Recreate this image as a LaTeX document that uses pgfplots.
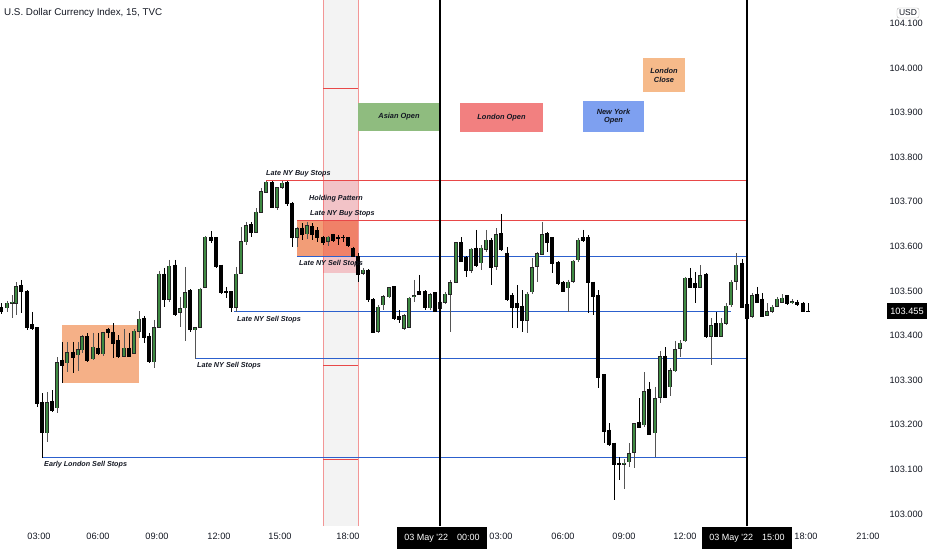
\documentclass[border=0pt]{standalone}
\usepackage{fontspec}
\setmainfont{Liberation Sans}
\usepackage{pgfplots}
\pgfplotsset{compat=1.18}
\usepackage{pgfplotstable}
\definecolor{tvgreen}{RGB}{62,138,66}
\definecolor{wick}{RGB}{85,85,85}
\definecolor{tvred}{RGB}{232,72,72}
\definecolor{tvblue}{RGB}{44,96,205}
\definecolor{band}{RGB}{243,243,243}
\definecolor{bandedge}{RGB}{242,150,150}
\definecolor{overred}{RGB}{242,54,69}
\definecolor{orangebox}{RGB}{240,140,95}
\definecolor{salmon}{RGB}{245,176,135}
\definecolor{asian}{RGB}{143,188,127}
\definecolor{londonopen}{RGB}{242,128,128}
\definecolor{nyopen}{RGB}{126,160,240}
\definecolor{londonclose}{RGB}{246,186,138}
\definecolor{txt}{RGB}{19,23,34}

\pgfplotstableread{
x o h l c
7 103.462 103.478 103.453 103.473
12 103.473 103.491 103.439 103.475
16 103.473 103.520 103.446 103.509
47 103.182 103.274 103.161 103.249
57 103.238 103.352 103.226 103.339
67 103.339 103.386 103.318 103.361
78 103.357 103.386 103.321 103.368
82 103.368 103.401 103.361 103.397
93 103.348 103.406 103.345 103.374
103 103.359 103.408 103.354 103.406
124 103.354 103.415 103.352 103.372
134 103.361 103.415 103.361 103.410
139 103.410 103.455 103.395 103.437
154 103.341 103.435 103.327 103.417
159 103.419 103.545 103.417 103.538
169 103.482 103.570 103.475 103.556
180 103.453 103.487 103.419 103.460
185 103.462 103.554 103.388 103.496
195 103.413 103.419 103.348 103.417
200 103.419 103.507 103.417 103.504
205 103.509 103.623 103.507 103.621
236 103.464 103.554 103.453 103.538
241 103.540 103.643 103.538 103.610
246 103.610 103.655 103.603 103.646
256 103.632 103.686 103.630 103.677
261 103.677 103.731 103.675 103.722
266 103.722 103.747 103.720 103.744
277 103.688 103.733 103.682 103.731
282 103.733 103.747 103.729 103.742
297 103.621 103.643 103.599 103.639
307 103.628 103.655 103.617 103.646
328 103.612 103.623 103.601 103.621
363 103.540 103.552 103.536 103.547
378 103.410 103.469 103.406 103.464
383 103.469 103.491 103.457 103.487
389 103.487 103.509 103.484 103.507
404 103.417 103.448 103.413 103.444
409 103.419 103.487 103.417 103.484
414 103.487 103.525 103.475 103.489
430 103.462 103.496 103.457 103.491
440 103.460 103.480 103.455 103.475
445 103.475 103.498 103.471 103.493
450 103.493 103.525 103.408 103.518
456 103.520 103.610 103.518 103.608
471 103.547 103.596 103.540 103.594
481 103.563 103.603 103.547 103.596
486 103.594 103.637 103.587 103.614
496 103.556 103.641 103.547 103.626
527 103.435 103.498 103.406 103.493
532 103.498 103.574 103.493 103.552
537 103.556 103.587 103.520 103.583
542 103.583 103.655 103.581 103.626
568 103.507 103.525 103.453 103.520
573 103.522 103.570 103.518 103.567
578 103.570 103.619 103.565 103.614
624 103.112 103.123 103.056 103.114
629 103.117 103.159 103.105 103.135
634 103.139 103.204 103.103 103.202
644 103.200 103.318 103.195 103.274
655 103.182 103.285 103.128 103.258
660 103.262 103.365 103.249 103.352
670 103.285 103.327 103.265 103.321
675 103.321 103.388 103.318 103.368
680 103.372 103.390 103.352 103.383
685 103.388 103.531 103.386 103.529
700 103.509 103.558 103.507 103.534
711 103.399 103.439 103.334 103.422
721 103.399 103.439 103.397 103.428
726 103.428 103.473 103.424 103.466
731 103.469 103.525 103.464 103.520
736 103.522 103.585 103.502 103.558
752 103.444 103.496 103.439 103.489
767 103.446 103.473 103.444 103.453
772 103.455 103.469 103.451 103.464
777 103.466 103.487 103.464 103.482
782 103.475 103.493 103.473 103.484
792 103.475 103.482 103.471 103.476
}\upcandles

\pgfplotstableread{
x o h l c
1 103.462 103.473 103.448 103.455
21 103.513 103.525 103.451 103.498
27 103.498 103.502 103.413 103.419
32 103.424 103.453 103.413 103.417
37 103.417 103.419 103.240 103.247
42 103.251 103.271 103.126 103.182
52 103.253 103.278 103.229 103.233
62 103.345 103.386 103.294 103.334
73 103.363 103.386 103.316 103.352
87 103.397 103.406 103.341 103.345
98 103.372 103.406 103.357 103.359
108 103.413 103.417 103.395 103.406
113 103.408 103.428 103.350 103.383
118 103.388 103.401 103.350 103.354
129 103.372 103.406 103.352 103.354
144 103.439 103.444 103.383 103.395
149 103.399 103.406 103.339 103.341
164 103.538 103.552 103.464 103.480
175 103.558 103.570 103.444 103.448
190 103.500 103.504 103.408 103.413
211 103.621 103.635 103.608 103.614
216 103.619 103.621 103.552 103.554
221 103.558 103.558 103.493 103.496
226 103.498 103.509 103.484 103.496
231 103.498 103.500 103.453 103.462
251 103.648 103.655 103.621 103.632
272 103.744 103.747 103.686 103.688
287 103.744 103.747 103.691 103.697
292 103.697 103.700 103.599 103.621
302 103.641 103.652 103.614 103.626
312 103.644 103.652 103.614 103.626
317 103.635 103.643 103.610 103.619
323 103.619 103.623 103.603 103.608
333 103.626 103.628 103.610 103.614
338 103.619 103.626 103.603 103.617
343 103.621 103.626 103.610 103.619
348 103.619 103.621 103.599 103.603
353 103.596 103.599 103.576 103.578
358 103.578 103.585 103.520 103.538
368 103.547 103.549 103.475 103.480
373 103.480 103.484 103.406 103.408
394 103.509 103.511 103.435 103.439
399 103.442 103.457 103.428 103.437
419 103.498 103.536 103.491 103.493
425 103.498 103.502 103.457 103.462
435 103.496 103.498 103.453 103.455
461 103.608 103.621 103.565 103.567
466 103.574 103.578 103.531 103.545
476 103.596 103.637 103.554 103.558
491 103.614 103.619 103.513 103.552
501 103.628 103.673 103.590 103.594
507 103.585 103.599 103.478 103.482
512 103.489 103.496 103.417 103.464
517 103.471 103.513 103.417 103.462
522 103.466 103.502 103.408 103.433
547 103.628 103.632 103.587 103.608
552 103.619 103.621 103.540 103.561
558 103.563 103.567 103.513 103.518
563 103.518 103.522 103.498 103.500
583 103.619 103.637 103.610 103.614
588 103.619 103.626 103.451 103.520
593 103.520 103.520 103.446 103.487
598 103.489 103.502 103.283 103.307
604 103.312 103.312 103.159 103.186
609 103.188 103.204 103.153 103.155
614 103.159 103.159 103.031 103.112
619 103.114 103.128 103.076 103.112
639 103.204 103.260 103.193 103.195
649 103.280 103.296 103.177 103.179
665 103.354 103.374 103.260 103.262
690 103.529 103.552 103.507 103.509
695 103.516 103.543 103.473 103.509
706 103.538 103.540 103.395 103.397
716 103.426 103.453 103.397 103.399
742 103.561 103.572 103.464 103.464
747 103.469 103.480 103.435 103.439
757 103.491 103.509 103.473 103.475
762 103.482 103.496 103.442 103.444
787 103.489 103.491 103.469 103.473
797 103.475 103.480 103.466 103.469
803 103.473 103.475 103.455 103.455
808 103.455 103.473 103.453 103.455
}\downcandles

\begin{document}
\begin{tikzpicture}[x=1pt,y=1pt]
\begin{axis}[
  at={(0pt,0pt)}, anchor=south west,
  scale only axis, width=880pt, height=526pt,
  xmin=0, xmax=880, ymin=102.9731, ymax=104.1525,
  axis line style={draw=none},
  clip=false,
  major tick length=0pt,
  xtick={39,98,157,219,280,348,501,563,624,685,806,868},
  xticklabels={03:00,06:00,09:00,12:00,15:00,18:00,03:00,06:00,09:00,12:00,18:00,21:00},
  ytick={103.0,103.1,103.2,103.3,103.4,103.5,103.6,103.7,103.8,103.9,104.0,104.1},
  yticklabel pos=right,
  yticklabel={\pgfmathprintnumber[fixed,fixed zerofill,precision=3]{\tick}},
  /pgf/number format/assume math mode=true,
  ticklabel style={font=\fontsize{9.2}{11}\selectfont, text=txt},
  yticklabel style={anchor=west, xshift=6pt},
  xticklabel style={yshift=-4pt},
  every error bar/.append style={line cap=butt},
  candle/.style={draw=none, mark=none, forget plot, error bars/y dir=minus, error bars/y explicit, error bars/error mark=none},
]
% session band
\fill[band] (323,102.9731) rectangle (358,104.1525);
\draw[bandedge, line width=0.8pt] (323,102.9731) -- (323,104.1525);
\draw[bandedge, line width=0.8pt] (358,102.9731) -- (358,104.1525);
\draw[tvred, line width=1pt] (323,103.955) -- (358,103.955);
\draw[tvred, line width=1pt] (323,103.332) -- (358,103.332);
\draw[tvred, line width=1pt] (323,103.123) -- (358,103.123);
% boxes
\fill[salmon] (62,103.294) rectangle (139,103.424);
\fill[orangebox, opacity=0.85] (297,103.578) rectangle (358,103.657);
\fill[overred, opacity=0.25] (323,103.540) rectangle (358,103.747);
% session labels
\fill[asian] (358,103.859) rectangle (440,103.922);
\node[font=\fontsize{7.4}{8.5}\selectfont\bfseries\itshape, text=txt] at (399,103.8905) {Asian Open};
\fill[londonopen] (460,103.857) rectangle (543,103.922);
\node[font=\fontsize{7.4}{8.5}\selectfont\bfseries\itshape, text=txt] at (501.5,103.8895) {London Open};
\fill[nyopen] (583,103.857) rectangle (644,103.926);
\node[font=\fontsize{7.4}{8.5}\selectfont\bfseries\itshape, text=txt, align=center] at (613.5,103.8915) {New York\\Open};
\fill[londonclose] (643,103.946) rectangle (685,104.022);
\node[font=\fontsize{7.4}{8.5}\selectfont\bfseries\itshape, text=txt, align=center] at (664,103.984) {London\\Close};
% levels
\draw[tvred, line width=1pt] (266,103.747) -- (747,103.747);
\draw[tvred, line width=1pt] (297,103.657) -- (747,103.657);
\draw[tvblue, line width=1pt] (297,103.578) -- (747,103.578);
\draw[tvblue, line width=1pt] (234,103.453) -- (731,103.453);
\draw[tvblue, line width=1pt] (195,103.348) -- (747,103.348);
\draw[tvblue, line width=1pt] (42,103.126) -- (747,103.126);
% candles: wicks
\addplot[candle, error bars/error bar style={draw=wick, line width=0.9pt}]
  table[x=x, y=h, y error minus expr={\thisrow{h}-\thisrow{l}}] {\upcandles};
\addplot[candle, error bars/error bar style={draw=black, line width=0.9pt}]
  table[x=x, y=h, y error minus expr={\thisrow{h}-\thisrow{l}}] {\downcandles};
% bodies
\addplot[candle, error bars/error bar style={draw=black!85, line width=3.9pt}]
  table[x=x, y expr={\thisrow{c}+0.0012}, y error minus expr={\thisrow{c}-\thisrow{o}+0.0024}] {\upcandles};
\addplot[candle, error bars/error bar style={draw=tvgreen, line width=2.5pt}]
  table[x=x, y=c, y error minus expr={\thisrow{c}-\thisrow{o}}] {\upcandles};
\addplot[candle, error bars/error bar style={draw=black, line width=3.9pt}]
  table[x=x, y expr={\thisrow{o}+0.0012}, y error minus expr={\thisrow{o}-\thisrow{c}+0.0024}] {\downcandles};
% vertical markers
\draw[black, line width=1.4pt] (440,102.9731) -- (440,104.1525);
\draw[black, line width=1.4pt] (747,102.9731) -- (747,104.1525);
% annotations
\begin{scope}[every node/.style={font=\fontsize{7.2}{8}\selectfont\bfseries\itshape, text=txt, anchor=west, inner sep=0pt}]
\node at (266,103.763) {Late NY Buy Stops};
\node at (309,103.706) {Holding Pattern};
\node at (310,103.673) {Late NY Buy Stops};
\node at (299,103.561) {Late NY Sell Stops};
\node at (237,103.435) {Late NY Sell Stops};
\node at (197,103.332) {Late NY Sell Stops};
\node at (44,103.110) {Early London Sell Stops};
\end{scope}
\node[fill=black, text=white, font=\fontsize{9.2}{11}\selectfont, inner xsep=3pt, minimum height=16pt] at (907,103.455) {103.455};
\end{axis}
% title and overlays outside axis
\node[anchor=west, font=\fontsize{9.8}{11}\selectfont, text=txt, inner sep=0pt] at (4,513) {U.S. Dollar Currency Index, 15, TVC};
\node[draw=black!30, rounded corners=2pt, fill=white, font=\fontsize{8.5}{10}\selectfont, text=txt, inner xsep=2pt, inner ysep=2pt] at (908,513) {USD};
\node[fill=black, text=white, font=\fontsize{9}{11}\selectfont, minimum width=90pt, minimum height=22pt, inner sep=0pt] at (442,-12) {03 May \textquotesingle22\hspace{9pt}00:00};
\node[fill=black, text=white, font=\fontsize{9}{11}\selectfont, minimum width=90pt, minimum height=22pt, inner sep=0pt] at (747,-12) {03 May \textquotesingle22\hspace{9pt}15:00};
\pgfresetboundingbox
\useasboundingbox (0,-24) rectangle (932,526);
\end{tikzpicture}
\end{document}
